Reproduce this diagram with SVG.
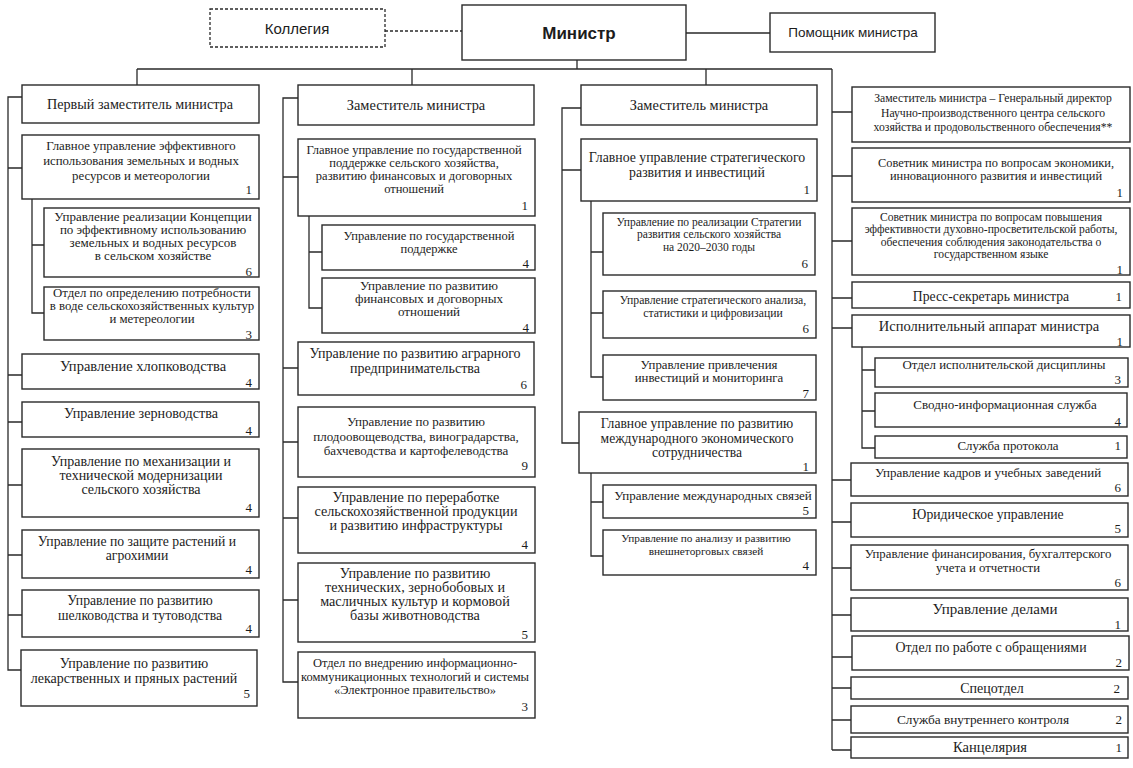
<svg xmlns="http://www.w3.org/2000/svg" width="1133" height="768" viewBox="0 0 1133 768" font-size="13">
<style>
.b{fill:#fff;stroke:#2a2a2a;stroke-width:1.4}
.d{fill:#fff;stroke:#2a2a2a;stroke-width:1.3;stroke-dasharray:3 2}
.c{fill:none;stroke:#2a2a2a;stroke-width:1.3}
.t{font-family:"Liberation Serif","DejaVu Serif",serif;fill:#1c1c1c;text-anchor:middle}
.s{font-family:"Liberation Sans","DejaVu Sans",sans-serif;fill:#1c1c1c;text-anchor:middle}
.n{font-family:"Liberation Serif","DejaVu Serif",serif;fill:#1c1c1c;text-anchor:end}
</style>
<rect width="1133" height="768" fill="#fff"/>
<g id="connectors">
<path class="c" d="M385 31H462" stroke-dasharray="3 2"/>
<path class="c" d="M686 33H770M577 60V69M137 69H832M137 69V85M412 69V85M706 69V85M832 69V750"/>
<path class="c" d="M22 97H8V670H22M8 168H22M8 375H22M8 422H22M8 485H22M8 555H22M8 615H22"/>
<path class="c" d="M32 199V313H44M32 245H44"/>
<path class="c" d="M298 98H283V682H298M283 177H298M283 368H298M283 442H298M283 518H298M283 600H298"/>
<path class="c" d="M309 216V308H322M309 252H322"/>
<path class="c" d="M581 108H562V443H581M562 170H581"/>
<path class="c" d="M591 201V377H603M591 252H603M591 313H603"/>
<path class="c" d="M591 473V556H603M591 502H603"/>
<path class="c" d="M832 112H852M832 176H852M832 241H852M832 298H852M832 328H852M832 480H851M832 522H851M832 568H851M832 615H851M832 657H852M832 688H851M832 720H851M832 750H851"/>
<path class="c" d="M862 347V448H875M862 370H875M862 411H875"/>
</g>
<g id="kollegiya"><rect class="d" x="210" y="9" width="175" height="38"/><text class="s" x="297" y="34" font-size="15">Коллегия</text></g>
<g id="ministr"><rect class="b" x="462" y="5" width="224" height="55"/><text class="s" x="579" y="39" font-size="17" font-weight="bold">Министр</text></g>
<g id="pomoshnik"><rect class="b" x="770" y="13" width="165" height="39"/><text class="s" x="853" y="37" font-size="13.5">Помощник министра</text></g>

<g id="c1-0"><rect class="b" x="22" y="85" width="237" height="38"/><text class="t" x="140" y="109" font-size="14.2">Первый заместитель министра</text></g>
<g id="c1-1"><rect class="b" x="22" y="135" width="237" height="64"/><text class="t" x="141" font-size="12.8"><tspan x="141" y="150">Главное управление эффективного</tspan><tspan x="141" y="165">использования земельных и водных</tspan><tspan x="141" y="180">ресурсов и метеорологии</tspan></text><text class="n" x="252" y="194">1</text></g>
<g id="c1-1a"><rect class="b" x="44" y="208" width="215" height="69"/><text class="t" x="153"><tspan x="153" y="221">Управление реализации Концепции</tspan><tspan x="153" y="234">по эффективному использованию</tspan><tspan x="153" y="247">земельных и водных ресурсов</tspan><tspan x="153" y="260">в сельском хозяйстве</tspan></text><text class="n" x="252" y="276">6</text></g>
<g id="c1-1b"><rect class="b" x="44" y="287" width="215" height="53"/><text class="t" x="152" font-size="12.8"><tspan x="152" y="297">Отдел по определению потребности</tspan><tspan x="152" y="310">в воде сельскохозяйственных культур</tspan><tspan x="152" y="323">и метереологии</tspan></text><text class="n" x="252" y="339">3</text></g>
<g id="c1-2"><rect class="b" x="22" y="354" width="237" height="35"/><text class="t" x="143" y="371" font-size="14.5">Управление хлопководства</text><text class="n" x="252" y="387">4</text></g>
<g id="c1-3"><rect class="b" x="22" y="402" width="237" height="35"/><text class="t" x="141" y="418" font-size="14.2">Управление зерноводства</text><text class="n" x="252" y="435">4</text></g>
<g id="c1-4"><rect class="b" x="22" y="449" width="237" height="68"/><text class="t" x="141" font-size="14"><tspan x="141" y="466">Управление по механизации и</tspan><tspan x="141" y="480">технической модернизации</tspan><tspan x="141" y="494">сельского хозяйства</tspan></text><text class="n" x="252" y="512">4</text></g>
<g id="c1-5"><rect class="b" x="22" y="530" width="237" height="48"/><text class="t" x="137" font-size="13.7"><tspan x="137" y="546">Управление по защите растений и</tspan><tspan x="137" y="560">агрохимии</tspan></text><text class="n" x="252" y="574">4</text></g>
<g id="c1-6"><rect class="b" x="22" y="590" width="237" height="47"/><text class="t" x="140" font-size="13.7"><tspan x="140" y="605">Управление по развитию</tspan><tspan x="140" y="620">шелководства и тутоводства</tspan></text><text class="n" x="252" y="633">4</text></g>
<g id="c1-7"><rect class="b" x="21" y="650" width="236" height="56"/><text class="t" x="134" font-size="14"><tspan x="134" y="668">Управление по развитию</tspan><tspan x="134" y="683">лекарственных и пряных растений</tspan></text><text class="n" x="250" y="698">5</text></g>

<g id="c2-0"><rect class="b" x="298" y="85" width="236" height="40"/><text class="t" x="416" y="110" font-size="14.4">Заместитель министра</text></g>
<g id="c2-1"><rect class="b" x="298" y="139" width="237" height="77"/><text class="t" x="414" font-size="12.5"><tspan x="414" y="154">Главное управление по государственной</tspan><tspan x="414" y="167">поддержке сельского хозяйства,</tspan><tspan x="414" y="180">развитию финансовых и договорных</tspan><tspan x="414" y="193">отношений</tspan></text><text class="n" x="528" y="210">1</text></g>
<g id="c2-1a"><rect class="b" x="322" y="225" width="213" height="45"/><text class="t" x="429" font-size="12.5"><tspan x="429" y="240">Управление по государственной</tspan><tspan x="429" y="253">поддержке</tspan></text><text class="n" x="529" y="268">4</text></g>
<g id="c2-1b"><rect class="b" x="322" y="278" width="213" height="55"/><text class="t" x="429" font-size="13"><tspan x="429" y="290">Управление по развитию</tspan><tspan x="429" y="303">финансовых и договорных</tspan><tspan x="429" y="316">отношений</tspan></text><text class="n" x="529" y="332">4</text></g>
<g id="c2-2"><rect class="b" x="298" y="342" width="236" height="53"/><text class="t" x="415" font-size="14"><tspan x="415" y="358">Управление по развитию аграрного</tspan><tspan x="415" y="373">предпринимательства</tspan></text><text class="n" x="527" y="389">6</text></g>
<g id="c2-3"><rect class="b" x="298" y="407" width="237" height="70"/><text class="t" x="416" font-size="13"><tspan x="416" y="426">Управление по развитию</tspan><tspan x="416" y="441">плодоовощеводства, виноградарства,</tspan><tspan x="416" y="455">бахчеводства и картофелеводства</tspan></text><text class="n" x="528" y="470">9</text></g>
<g id="c2-4"><rect class="b" x="298" y="487" width="237" height="66"/><text class="t" x="416" font-size="14.2"><tspan x="416" y="502">Управление по переработке</tspan><tspan x="416" y="516">сельскохозяйственной продукции</tspan><tspan x="416" y="530">и развитию инфраструктуры</tspan></text><text class="n" x="528" y="549">4</text></g>
<g id="c2-5"><rect class="b" x="298" y="563" width="237" height="79"/><text class="t" x="415" font-size="14.2"><tspan x="415" y="578">Управление по развитию</tspan><tspan x="415" y="592">технических, зернобобовых и</tspan><tspan x="415" y="606">масличных культур и кормовой</tspan><tspan x="415" y="620">базы животноводства</tspan></text><text class="n" x="528" y="639">5</text></g>
<g id="c2-6"><rect class="b" x="298" y="652" width="237" height="66"/><text class="t" x="415" font-size="12.5"><tspan x="415" y="667">Отдел по внедрению информационно-</tspan><tspan x="415" y="681">коммуникационных технологий и системы</tspan><tspan x="415" y="694">«Электронное правительство»</tspan></text><text class="n" x="528" y="711">3</text></g>

<g id="c3-0"><rect class="b" x="581" y="85" width="236" height="40"/><text class="t" x="699" y="110" font-size="14.4">Заместитель министра</text></g>
<g id="c3-1"><rect class="b" x="581" y="139" width="236" height="62"/><text class="t" x="697" font-size="13.8"><tspan x="697" y="162">Главное управление стратегического</tspan><tspan x="697" y="177">развития и инвестиций</tspan></text><text class="n" x="810" y="194">1</text></g>
<g id="c3-1a"><rect class="b" x="603" y="213" width="212" height="62"/><text class="t" x="709" font-size="11.5"><tspan x="709" y="226">Управление по реализации Стратегии</tspan><tspan x="709" y="238">развития сельского хозяйства</tspan><tspan x="709" y="251">на 2020–2030 годы</tspan></text><text class="n" x="808" y="268">6</text></g>
<g id="c3-1b"><rect class="b" x="603" y="291" width="213" height="47"/><text class="t" x="713" font-size="11.7"><tspan x="713" y="304">Управление стратегического анализа,</tspan><tspan x="713" y="317">статистики и цифровизации</tspan></text><text class="n" x="809" y="333">6</text></g>
<g id="c3-1c"><rect class="b" x="603" y="355" width="213" height="45"/><text class="t" x="709" font-size="12.8"><tspan x="709" y="369">Управление привлечения</tspan><tspan x="709" y="382">инвестиций и мониторинга</tspan></text><text class="n" x="809" y="398">7</text></g>
<g id="c3-2"><rect class="b" x="579" y="412" width="237" height="61"/><text class="t" x="697" font-size="13.6"><tspan x="697" y="428">Главное управление по развитию</tspan><tspan x="697" y="443">международного экономического</tspan><tspan x="697" y="457">сотрудничества</tspan></text><text class="n" x="809" y="471">1</text></g>
<g id="c3-2a"><rect class="b" x="603" y="485" width="213" height="33"/><text class="t" x="713" y="500">Управление международных связей</text><text class="n" x="809" y="515">5</text></g>
<g id="c3-2b"><rect class="b" x="603" y="530" width="213" height="45"/><text class="t" x="706" font-size="11.3"><tspan x="706" y="542">Управление по анализу и развитию</tspan><tspan x="706" y="555">внешнеторговых связей</tspan></text><text class="n" x="809" y="570">4</text></g>

<g id="c4-1"><rect class="b" x="852" y="87" width="278" height="55"/><text class="t" x="993" font-size="11.7"><tspan x="993" y="102">Заместитель министра – Генеральный директор</tspan><tspan x="993" y="117">Научно-производственного центра сельского</tspan><tspan x="993" y="131">хозяйства и продовольственного обеспечения**</tspan></text></g>
<g id="c4-2"><rect class="b" x="852" y="148" width="278" height="54"/><text class="t" x="996" font-size="12.4"><tspan x="996" y="167">Советник министра по вопросам экономики,</tspan><tspan x="996" y="180">инновационного развития и инвестиций</tspan></text><text class="n" x="1123" y="197">1</text></g>
<g id="c4-3"><rect class="b" x="852" y="208" width="278" height="67"/><text class="t" x="991" font-size="11.6"><tspan x="991" y="221">Советник министра по вопросам повышения</tspan><tspan x="991" y="233">эффективности духовно-просветительской работы,</tspan><tspan x="991" y="246">обеспечения соблюдения законодательства о</tspan><tspan x="991" y="258">государственном языке</tspan></text><text class="n" x="1123" y="274">1</text></g>
<g id="c4-4"><rect class="b" x="852" y="282" width="278" height="26"/><text class="t" x="991" y="301" font-size="13.7">Пресс-секретарь министра</text><text class="n" x="1122" y="301">1</text></g>
<g id="c4-5"><rect class="b" x="852" y="315" width="278" height="32"/><text class="t" x="989" y="331" font-size="14.5">Исполнительный аппарат министра</text><text class="n" x="1123" y="346">1</text></g>
<g id="c4-5a"><rect class="b" x="875" y="358" width="253" height="29"/><text class="t" x="1004" y="369" font-size="12.9">Отдел исполнительской дисциплины</text><text class="n" x="1121" y="384">3</text></g>
<g id="c4-5b"><rect class="b" x="875" y="393" width="252" height="34"/><text class="t" x="1005" y="409">Сводно-информационная служба</text><text class="n" x="1121" y="426">4</text></g>
<g id="c4-5c"><rect class="b" x="875" y="436" width="252" height="22"/><text class="t" x="1008" y="450" font-size="12.9">Служба протокола</text><text class="n" x="1121" y="450">1</text></g>
<g id="c4-6"><rect class="b" x="851" y="463" width="277" height="33"/><text class="t" x="988" y="477">Управление кадров и учебных заведений</text><text class="n" x="1121" y="492">6</text></g>
<g id="c4-7"><rect class="b" x="851" y="503" width="277" height="34"/><text class="t" x="988" y="519" font-size="13.7">Юридическое управление</text><text class="n" x="1121" y="533">5</text></g>
<g id="c4-8"><rect class="b" x="851" y="545" width="277" height="45"/><text class="t" x="988" font-size="12.75"><tspan x="988" y="558">Управление финансирования, бухгалтерского</tspan><tspan x="988" y="572">учета и отчетности</tspan></text><text class="n" x="1121" y="587">6</text></g>
<g id="c4-9"><rect class="b" x="851" y="598" width="277" height="33"/><text class="t" x="995" y="614" font-size="15">Управление делами</text><text class="n" x="1121" y="629">1</text></g>
<g id="c4-10"><rect class="b" x="852" y="636" width="277" height="34"/><text class="t" x="991" y="652" font-size="13.9">Отдел по работе с обращениями</text><text class="n" x="1122" y="667">2</text></g>
<g id="c4-11"><rect class="b" x="851" y="677" width="277" height="22"/><text class="t" x="992" y="693" font-size="14">Спецотдел</text><text class="n" x="1120" y="693">2</text></g>
<g id="c4-12"><rect class="b" x="851" y="706" width="277" height="27"/><text class="t" x="983" y="724" font-size="13.3">Служба внутреннего контроля</text><text class="n" x="1122" y="724">2</text></g>
<g id="c4-13"><rect class="b" x="851" y="737" width="277" height="21"/><text class="t" x="990" y="752" font-size="14.6">Канцелярия</text><text class="n" x="1122" y="752">1</text></g>
</svg>
